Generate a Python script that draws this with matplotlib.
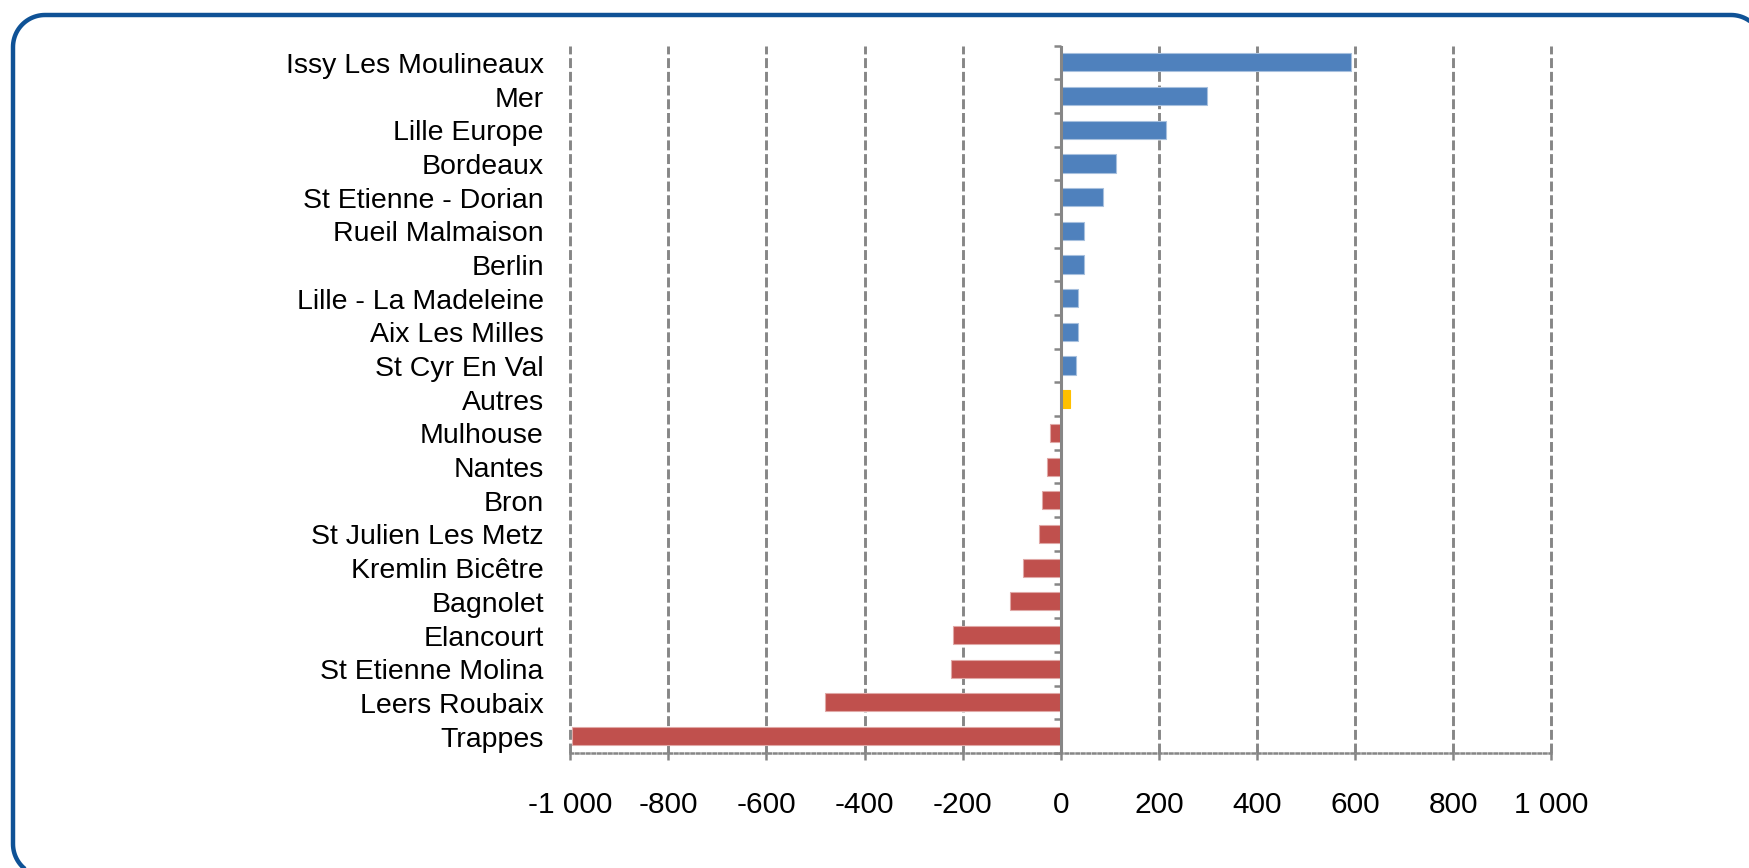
import matplotlib
matplotlib.use("Agg")
import numpy as np
import matplotlib.pyplot as plt
from matplotlib.patches import Polygon
from matplotlib.ticker import FixedLocator, FuncFormatter

plt.rcParams['font.family'] = ['Liberation Sans', 'DejaVu Sans']

# sites, top to bottom, and their net change
sites = ["Issy Les Moulineaux", "Mer", "Lille Europe", "Bordeaux",
         "St Etienne - Dorian", "Rueil Malmaison", "Berlin",
         "Lille - La Madeleine", "Aix Les Milles", "St Cyr En Val", "Autres",
         "Mulhouse", "Nantes", "Bron", "St Julien Les Metz",
         "Kremlin Bicêtre", "Bagnolet", "Elancourt", "St Etienne Molina",
         "Leers Roubaix", "Trappes"]
values = [591, 297, 215, 112, 85, 47, 47, 36, 36, 30, 18,
          -23, -28, -39, -44, -77, -104, -219, -224, -480, -997]
x_ticks = [-1000, -800, -600, -400, -200, 0, 200, 400, 600, 800, 1000]

BLUE, RED, GOLD = "#4F81BD", "#C0504D", "#FFC000"
GREY = "#868686"


def bar_color(name, v):
    if name == "Autres":
        return GOLD
    return BLUE if v > 0 else RED


def rounded_rect(x0, y0, x1, y1, r, n=24):
    # corner arcs as plain line segments (no bezier curves)
    pts = []
    corners = [(x1 - r, y1 - r, 0), (x0 + r, y1 - r, 90),
               (x0 + r, y0 + r, 180), (x1 - r, y0 + r, 270)]
    for cx, cy, start in corners:
        a = np.radians(np.linspace(start, start + 90, n))
        pts.extend(zip(cx + r * np.cos(a), cy + r * np.sin(a)))
    return pts


colors = [bar_color(n, v) for n, v in zip(sites, values)]
edges = ["#A7C0DE" if c == BLUE else "#E0A8A6" if c == RED else GOLD for c in colors]

fig = plt.figure(figsize=(17.495, 8.685), dpi=100)
ax = fig.add_axes([0.3259, 0.1325, 0.5609, 0.8145])

ypos = list(range(len(sites)))
ax.barh(ypos, values, height=0.54, color=colors, edgecolor=edges,
        linewidth=0.8, zorder=3)

ax.set_ylim(len(sites) - 0.5, -0.5)
ax.set_xlim(-1000, 1000)

# dashed vertical gridlines (skip zero, where the axis line sits)
for xv in x_ticks:
    if xv != 0:
        ax.axvline(xv, color=GREY, lw=2.1, ls=(0, (3.4, 1.3)), zorder=1,
                   clip_on=False)

# category axis at x = 0
ax.axvline(0, color=GREY, lw=2.2, zorder=4)
for b in [i - 0.5 for i in range(len(sites) + 1)]:
    ax.plot([-14, 0], [b, b], color=GREY, lw=1.8, zorder=4,
            solid_capstyle="butt", clip_on=False)

for s in ["top", "right", "left"]:
    ax.spines[s].set_visible(False)
ax.spines["bottom"].set_color(GREY)
ax.spines["bottom"].set_linewidth(1.8)
ax.spines["bottom"].set_linestyle((0, (1, 1.2)))

ax.set_yticks(ypos)
ax.set_yticklabels(sites, fontsize=20.5)
ax.tick_params(axis="y", length=0, pad=19)

ax.xaxis.set_major_locator(FixedLocator(x_ticks))
ax.xaxis.set_major_formatter(FuncFormatter(
    lambda v, p: f"{int(v):,}".replace(",", " ")))
ax.tick_params(axis="x", length=5, width=1.8, color=GREY, labelsize=21.5,
               pad=22)

# rounded frame around the whole chart, in inches
frame = Polygon(rounded_rect(0.13, -0.08, 17.63, 8.53, 0.32), closed=True,
                fill=False, edgecolor="#0F5296", linewidth=3.2,
                transform=fig.dpi_scale_trans)
fig.add_artist(frame)

fig.savefig("out.png", dpi=100)
